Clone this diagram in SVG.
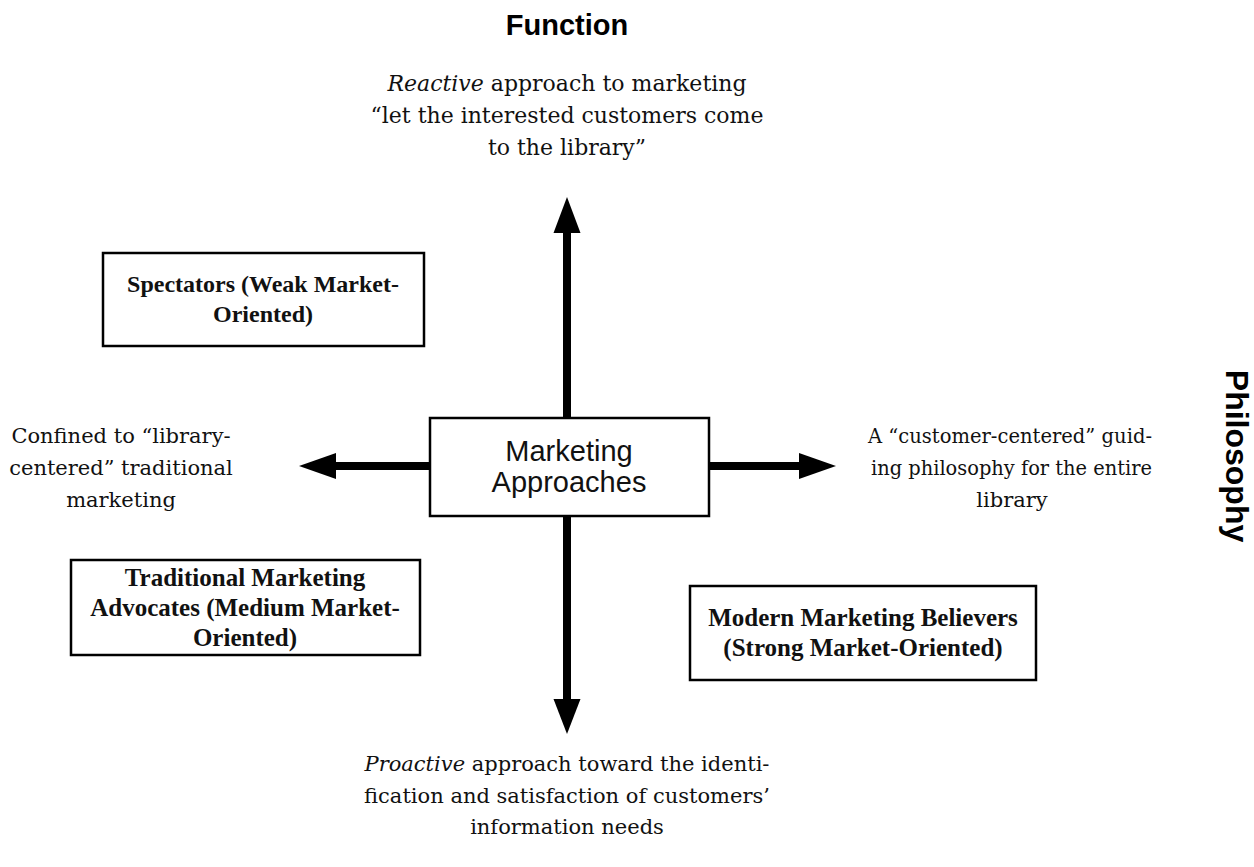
<svg xmlns="http://www.w3.org/2000/svg" width="1254" height="867" viewBox="0 0 1254 867">
<style>
.bg{fill:#fff}
.box{fill:#fff;stroke:#000;stroke-width:2.5}
.ser{font-family:"DejaVu Serif","Liberation Serif",serif;font-size:21px;fill:#111;text-anchor:middle}
.ser.top{font-size:22px}
.ser.just{text-anchor:start}
.bold{font-family:"Liberation Serif","DejaVu Serif",serif;font-size:25px;font-weight:bold;fill:#111;text-anchor:middle}
.bold.sm{font-size:24px}
.sans{font-family:"Liberation Sans",Arial,sans-serif;font-size:29px;fill:#111;text-anchor:middle}
.head{font-family:"Liberation Sans",Arial,sans-serif;font-size:29px;font-weight:bold;fill:#000;text-anchor:middle}
.head.rot{font-size:32px}
.shaft{stroke:#000;stroke-width:8;fill:none}
.tip{fill:#000}
</style>
<rect class="bg" x="0" y="0" width="1254" height="867"/>
<g id="connectors">
  <line class="shaft" x1="567" y1="418" x2="567" y2="232"/>
  <polygon class="tip" points="567,197 553.5,233 580.5,233"/>
  <line class="shaft" x1="567" y1="516" x2="567" y2="700"/>
  <polygon class="tip" points="567,734 553.5,699 580.5,699"/>
  <line class="shaft" x1="430" y1="466" x2="335" y2="466"/>
  <polygon class="tip" points="299,466 336,453 336,479"/>
  <line class="shaft" x1="709" y1="466" x2="800" y2="466"/>
  <polygon class="tip" points="836,466 799,453 799,479"/>
</g>
<g id="title-function">
  <text class="head" x="567" y="35">Function</text>
</g>
<g id="title-philosophy">
  <text class="head rot" transform="translate(1226,456) rotate(90)" x="0" y="0">Philosophy</text>
</g>
<g id="label-top">
  <text class="ser top" x="567" y="91"><tspan font-style="italic">Reactive</tspan> approach to marketing</text>
  <text class="ser top" x="567" y="123">“let the interested customers come</text>
  <text class="ser top" x="567" y="155">to the library”</text>
</g>
<g id="label-left">
  <text class="ser" x="121" y="443">Confined to “library-</text>
  <text class="ser" x="121" y="475">centered” traditional</text>
  <text class="ser" x="121" y="507">marketing</text>
</g>
<g id="label-right">
  <text class="ser just" x="868" y="443" textLength="284" lengthAdjust="spacingAndGlyphs">A “customer-centered” guid-</text>
  <text class="ser just" x="871" y="475" textLength="281" lengthAdjust="spacingAndGlyphs">ing philosophy for the entire</text>
  <text class="ser" x="1012" y="507">library</text>
</g>
<g id="label-bottom">
  <text class="ser" x="567" y="771"><tspan font-style="italic">Proactive</tspan> approach toward the identi-</text>
  <text class="ser" x="567" y="803">fication and satisfaction of customers’</text>
  <text class="ser" x="567" y="834">information needs</text>
</g>
<g id="node-center">
  <rect class="box" x="430" y="418" width="279" height="98"/>
  <text class="sans" x="569" y="461">Marketing</text>
  <text class="sans" x="569" y="492">Approaches</text>
</g>
<g id="node-spectators">
  <rect class="box" x="103" y="253" width="321" height="93"/>
  <text class="bold sm" x="263" y="292">Spectators (Weak Market-</text>
  <text class="bold sm" x="263" y="322">Oriented)</text>
</g>
<g id="node-traditional">
  <rect class="box" x="71" y="560" width="349" height="95"/>
  <text class="bold" x="245" y="586">Traditional Marketing</text>
  <text class="bold" x="245" y="616">Advocates (Medium Market-</text>
  <text class="bold" x="245" y="646">Oriented)</text>
</g>
<g id="node-modern">
  <rect class="box" x="690" y="586" width="346" height="94"/>
  <text class="bold" x="863" y="626">Modern Marketing Believers</text>
  <text class="bold" x="863" y="656">(Strong Market-Oriented)</text>
</g>
</svg>
